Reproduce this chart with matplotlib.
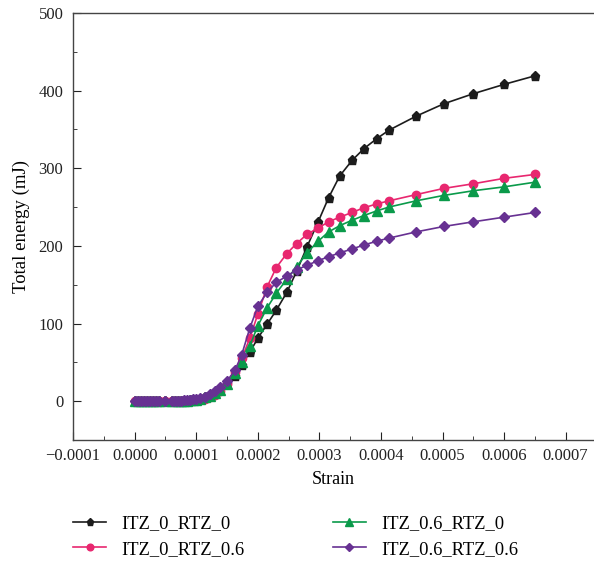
import numpy as np
import matplotlib
matplotlib.use("Agg")
import matplotlib.pyplot as plt
from matplotlib.ticker import MultipleLocator, FuncFormatter

plt.rcParams['font.family'] = ['Liberation Serif', 'DejaVu Serif']

# regangan (strain) yang dipakai bersama oleh keempat kurva
strain = [0, 0.000005, 0.00001, 0.000015, 0.00002, 0.000025, 0.00003, 0.000035,
          0.00004, 0.00005, 0.00006, 0.000065, 0.00007, 0.000075, 0.00008,
          0.000085, 0.00009, 0.000095, 0.0001, 0.000106, 0.000114, 0.000122,
          0.00013, 0.000138, 0.00015, 0.000163, 0.000174, 0.000187, 0.0002,
          0.000215, 0.00023, 0.000247, 0.000263, 0.00028, 0.000298, 0.000315,
          0.000333, 0.000353, 0.000372, 0.000393, 0.000413, 0.000457, 0.000502,
          0.00055, 0.0006, 0.00065]

# energi total (mJ) tiap model
itz0_rtz0 = [0, 0, 0, 0, 0, 0, 0, 0, 0, 0, 0, 0, 0, 0.2, 0.4, 0.6, 1, 1.5, 2,
             3, 5, 8, 11, 15, 22, 33, 47, 63, 81,
             99, 117, 140, 167, 199, 231, 262, 290, 310, 325, 338, 349, 367,
             383, 396, 408, 419]
itz0_rtz06 = [0, 0, 0, 0, 0, 0, 0, 0, 0, 0, 0, 0, 0, 0, 0, 0.3, 0.6, 1, 1.5,
              2, 3, 5, 8, 13, 22, 37, 55, 81, 112,
              147, 172, 190, 203, 215, 223, 231, 237, 243, 249, 254, 258, 266,
              274, 280, 287, 292]
itz06_rtz0 = [0, 0, 0, 0, 0, 0, 0, 0, 0, 0, 0, 0, 0, 0.2, 0.4, 0.7, 1, 1.5, 2,
              3, 5, 7, 10, 14, 22, 36, 50, 71, 97,
              120, 139, 157, 173, 191, 206, 218, 226, 233, 239, 245, 250, 258,
              265, 271, 276, 282]
itz06_rtz06 = [0.5, 0.5, 0.3, 0.5, 0.3, 0.5, 0.3, 0.5, 0.3, 0.5, 0.5, 0.5,
               0.6, 0.8, 1, 1.3, 1.7, 2.2, 3,
               4, 6, 9, 13, 18, 26, 40, 60, 94, 122,
               140, 153, 161, 169, 175, 181, 186, 191, 196, 201, 206, 210, 218,
               225, 231, 237, 243]

labels = ['ITZ_0_RTZ_0', 'ITZ_0_RTZ_0.6', 'ITZ_0.6_RTZ_0', 'ITZ_0.6_RTZ_0.6']
warna = ['#1c1c1c', '#e8276f', '#0a9a4a', '#673192']
marker = ['p', 'o', '^', 'D']
ukuran = [6.5, 6, 6.5, 5.5]

fig = plt.figure(figsize=(5.94, 5.63), dpi=100)
ax = fig.add_axes([0.123, 0.2185, 0.877, 0.7585])

data = [itz0_rtz0, itz0_rtz06, itz06_rtz0, itz06_rtz06]
for y, lab, c, m, s in zip(data, labels, warna, marker, ukuran):
    ax.plot(strain, y, color=c, marker=m, markersize=s, linewidth=1.2,
            label=lab)

ax.set_xlim(-0.0001, 0.000746)
ax.set_ylim(-50, 500)
ax.xaxis.set_major_locator(MultipleLocator(0.0001))
ax.xaxis.set_minor_locator(MultipleLocator(0.00005))
ax.yaxis.set_major_locator(MultipleLocator(100))
ax.yaxis.set_minor_locator(MultipleLocator(50))


def fmt_x(v, pos):
    s = '%.4f' % abs(v)
    return ('\u2212' + s) if v < -1e-12 else s


ax.xaxis.set_major_formatter(FuncFormatter(fmt_x))
ax.tick_params(which='both', direction='in', labelsize=12, colors='#222222')
ax.tick_params(which='major', length=6)
ax.tick_params(which='minor', length=3)
ax.tick_params(axis='x', pad=6)
ax.tick_params(axis='y', pad=7)

for sp in ['left', 'bottom', 'top']:
    ax.spines[sp].set_color('#444444')
    ax.spines[sp].set_linewidth(1.0)
ax.spines['right'].set_visible(False)

ax.set_xlabel('Strain', fontsize=13, labelpad=5)
ax.set_ylabel('Total energy (mJ)', fontsize=13.5, labelpad=6)

fig.legend(loc='upper left', bbox_to_anchor=(0.095, 0.114), ncol=2,
           frameon=False, fontsize=13.3, handlelength=1.8, handletextpad=0.8,
           columnspacing=4.8, labelspacing=0.45, markerscale=0.8)

plt.savefig('out.png', dpi=100)
